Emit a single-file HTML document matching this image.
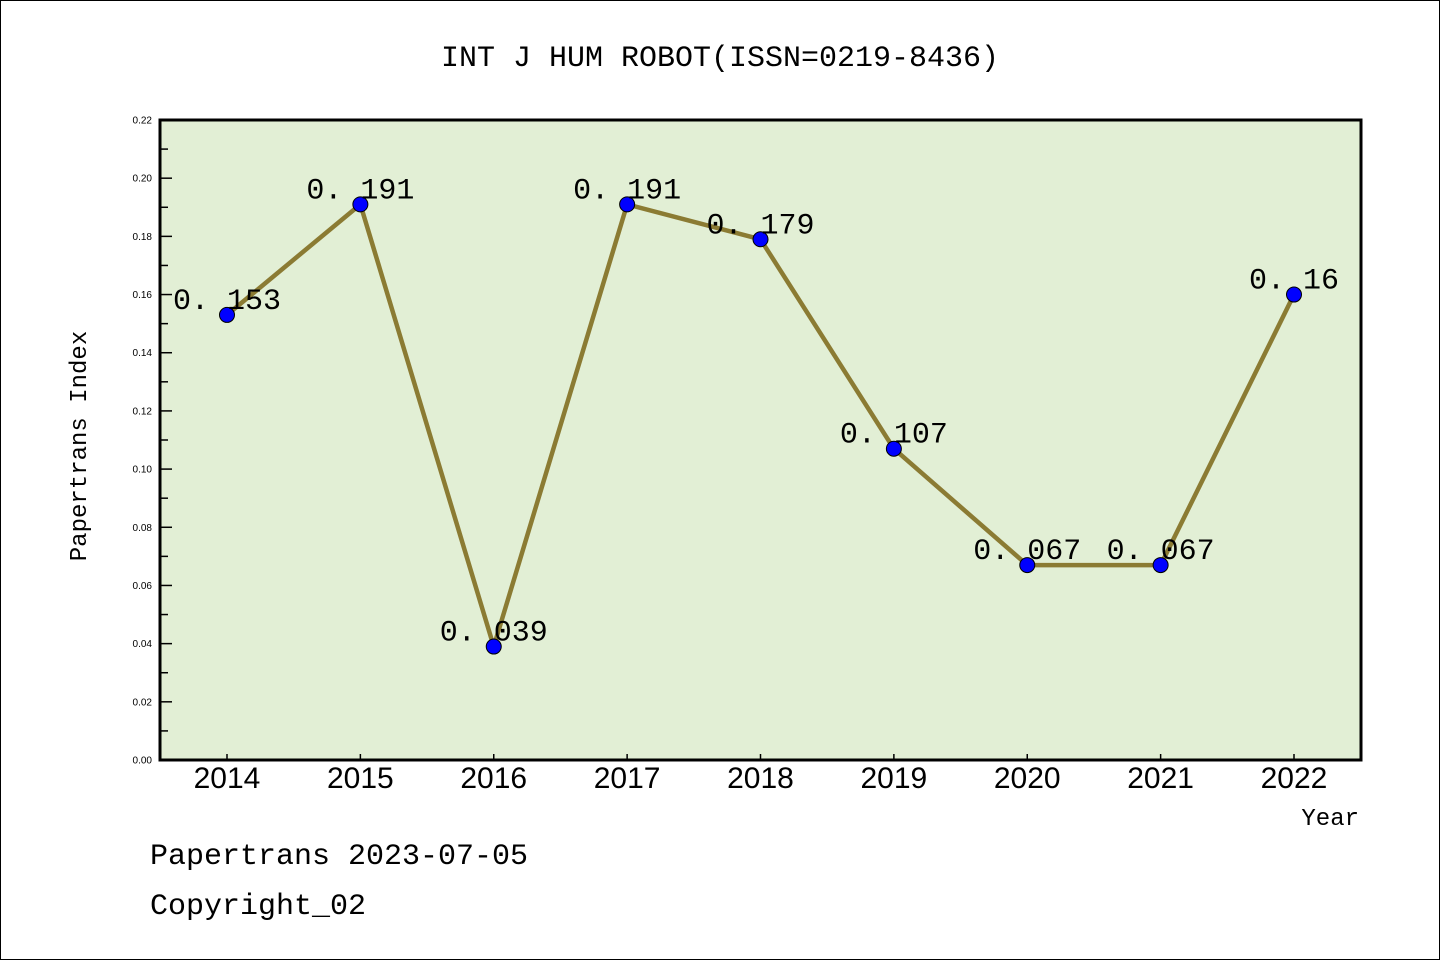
<!DOCTYPE html>
<html><head><meta charset="utf-8"><style>
body{margin:0;background:#fff;}
svg{display:block;font-family:"Liberation Sans","DejaVu Sans",sans-serif;}
.mono{font-family:"Liberation Mono","DejaVu Sans Mono",monospace;}
</style></head><body>
<svg id="c" width="1440" height="960" xmlns="http://www.w3.org/2000/svg">
<rect x="0.5" y="0.5" width="1439" height="959" fill="#fff" stroke="#000"/>
<text x="720" y="66" text-anchor="middle" font-size="30" class="mono">INT J HUM ROBOT(ISSN=0219-8436)</text>
<rect x="160" y="120" width="1201" height="640" fill="#e2efd5"/>
<g id="axes"></g>
<g id="marks"></g>
<rect x="160" y="120" width="1201" height="640" fill="none" stroke="#000" stroke-width="3"/>
<text x="86" y="446" transform="rotate(-90 86 446)" text-anchor="middle" font-size="24" class="mono">Papertrans Index</text>
<text x="1359" y="825" text-anchor="end" font-size="24" class="mono">Year</text>
<text x="150" y="864" font-size="30" class="mono">Papertrans 2023-07-05</text>
<text x="150" y="914" font-size="30" class="mono">Copyright_02</text>
</svg>
<script>
const years=["2014","2015","2016","2017","2018","2019","2020","2021","2022"];
const values=[0.153,0.191,0.039,0.191,0.179,0.107,0.067,0.067,0.16];
const labels=["0.153","0.191","0.039","0.191","0.179","0.107","0.067","0.067","0.16"];
const yTicks=[0,0.02,0.04,0.06,0.08,0.10,0.12,0.14,0.16,0.18,0.20,0.22];
const NS="http://www.w3.org/2000/svg";
const x=i=>227+i*(1294-227)/(years.length-1);
const y=v=>760-v*(640/0.22);
function mk(t,a,p){const e=document.createElementNS(NS,t);for(const k in a)e.setAttribute(k,a[k]);p.appendChild(e);return e;}
const ax=document.getElementById('axes'),mg=document.getElementById('marks');
yTicks.forEach((v,i)=>{
 const l=mk('line',{x1:160,x2:172,y1:y(v),y2:y(v),stroke:'#000','stroke-width':1.5},ax);
 
 
 const t=mk('text',{x:152,y:y(v)+3.5,'text-anchor':'end','font-size':10},ax);
 t.textContent=v.toFixed(2);
 
 
 if(i<yTicks.length-1){const m=(v+yTicks[i+1])/2;
  const ml=mk('line',{x1:160,x2:168,y1:y(m),y2:y(m),stroke:'#000','stroke-width':1.5},ax);
  
  }
});
years.forEach((yr,i)=>{
 const l=mk('line',{x1:x(i),x2:x(i),y1:760,y2:754,stroke:'#000','stroke-width':1.5},ax);
 
 
 const t=mk('text',{x:x(i),y:788,'text-anchor':'middle','font-size':30},ax);
 t.textContent=yr;
 
 
});
const pl=mk('polyline',{points:values.map((v,i)=>x(i)+','+y(v)).join(' '),fill:'none',stroke:'#8b7b33','stroke-width':4.5,'stroke-linejoin':'round'},mg);


values.forEach((v,i)=>{
 const c=mk('circle',{cx:x(i),cy:y(v),r:7.5,fill:'#0000ff',stroke:'#000','stroke-width':1},mg);
 
 
 const t=mk('text',{x:x(i),y:y(v)-6,'text-anchor':'middle','font-size':30,class:'mono'},mg);
 t.textContent=labels[i].replace('.','. ');
 
 
});
</script>
</body></html>
